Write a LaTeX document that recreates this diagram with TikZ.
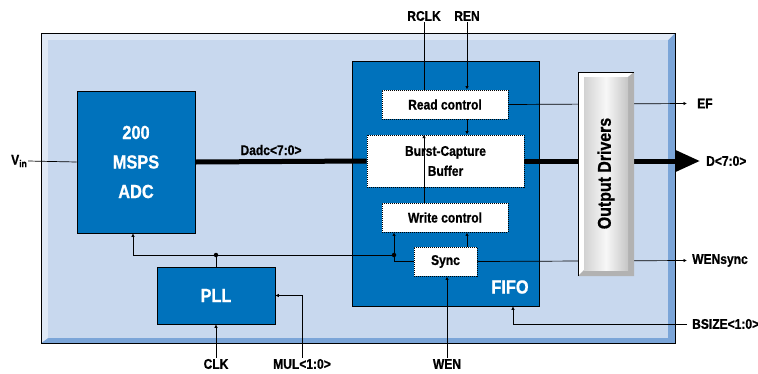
\documentclass[tikz,border=0pt]{standalone}
\usepackage{fontspec}
\setmainfont{Liberation Sans}[FakeStretch=0.86, BoldFeatures={FakeBold=0.8}]
\usetikzlibrary{arrows.meta,calc}
\definecolor{fifoblue}{RGB}{0,114,188}
\definecolor{bglight}{RGB}{200,216,238}
\definecolor{bgdark}{RGB}{123,165,216}
\definecolor{bgbevel}{RGB}{224,233,246}
\begin{document}
\begin{tikzpicture}[x=1pt,y=-1pt,
  blk/.style={draw=black, line width=0.7pt, fill=fifoblue, text=white, font=\bfseries\fontsize{19}{29.5}\selectfont, align=center, inner sep=0pt},
  sub/.style={draw=black, dash pattern=on 1pt off 1pt, line width=0.9pt, fill=white, font=\bfseries\fontsize{14}{20}\selectfont, align=center, inner sep=0pt},
  lbl/.style={font=\bfseries\fontsize{14}{16}\selectfont, inner sep=1pt},
  wire/.style={line width=0.7pt},
  bus/.style={line width=5pt},
  arr/.style={-{Latex[length=3.5pt,width=3.5pt]}},
  bigarr/.style={-{Triangle[length=25pt,width=21pt]}},
  dot/.style={circle, fill=black, inner sep=0pt, minimum size=4.5pt}]
\useasboundingbox (0,0) rectangle (758,373);
\fill[white] (0,0) rectangle (758,373);
% outer board
\fill[bgdark] (41,33) rectangle (675,343);
\fill[bgbevel] (41,33) -- (675,33) -- (668,40) -- (48,40) -- (48,338) -- (41,343) -- cycle;
\fill[bglight] (48,40) rectangle (668,338);
\draw[line width=0.7pt] (41,33) rectangle (675,343);
% main blocks
\node[blk, minimum width=118pt, minimum height=142pt] (adc) at (136,162) {200\\MSPS\\ADC};
\node[blk, minimum width=118pt, minimum height=57pt] (pll) at (216,295.5) {PLL};
\node[blk, minimum width=187pt, minimum height=245pt] (fifo) at (445.5,183.5) {};
\node[text=white, font=\bfseries\fontsize{19}{21}\selectfont, inner sep=0pt] (fifolbl) at (510,287) {FIFO};
% sub blocks
\node[sub, minimum width=126pt, minimum height=29pt] (rc) at (445,104.5) {Read control};
\node[sub, minimum width=157pt, minimum height=52pt] (buf) at (445.5,161) {Burst-Capture\\Buffer};
\node[sub, minimum width=126pt, minimum height=29pt] (wc) at (445,217.5) {Write control};
\node[sub, minimum width=63pt, minimum height=29pt] (sync) at (445.5,261.5) {Sync};
% labels
\node[lbl] (vin) at (19,161) {V\raisebox{-0.35ex}{\fontsize{10}{12}\selectfont in}};
\node[lbl] (dadc) at (271,150) {Dadc<7:0>};
\node[lbl] (rclk) at (424,16) {RCLK};
\node[lbl] (ren) at (467,16) {REN};
\node[lbl, anchor=west] (ef) at (696,103.5) {EF};
\node[lbl, anchor=west] (dout) at (705,161) {D<7:0>};
\node[lbl, anchor=west] (wensync) at (691,260.5) {WENsync};
\node[lbl, anchor=west] (bsize) at (691,324) {BSIZE<1:0>};
\node[lbl] (wen) at (447,364) {WEN};
\node[lbl] (clk) at (216,364) {CLK};
\node[lbl] (mul) at (302,364) {MUL<1:0>};
% connector ends
\coordinate (efend) at (687,103.5);
\coordinate (dend) at (700,161);
\coordinate (wsend) at (687,260.5);
\coordinate (bsstart) at (687,324);
\coordinate (adcin) at ($(adc.south)+(-3,0)$);
\coordinate (fifoin) at ($(fifo.south)+(67.5,0)$);
\node[dot] (d1) at (216,255) {};
\node[dot] (d2) at (394,255) {};
% wires
\draw[wire] (vin.east) -- (adc.west);
\draw[bus] (adc.east) -- (buf.west);
\draw[bus, bigarr] (buf.east) -- (dend);
\draw[wire] (rclk.south) -- (rclk.south |- rc.north);
\draw[wire, arr] (ren.south) -- (ren.south |- rc.north);
\draw[wire, arr] (ren |- rc.south) -- (ren |- buf.north);
\draw[wire, arr] (rclk |- wc.north) -- (rclk |- buf.north);
\draw[wire, arr] (ren |- sync.north) -- (ren |- wc.south);
\draw[wire, arr] (rc.east) -- (efend);
\draw[wire, arr] (sync.east) -- (wsend);
\draw[wire, arr] (wen.north) -- (wen.north |- sync.south);
\draw[wire, arr] (bsstart) -- (bsstart -| fifoin) -- (fifoin);
\draw[wire, arr] (d2.center) -- (d2.center -| adcin) -- (adcin);
\draw[wire] (pll.north) -- (d1.center);
\draw[wire, arr] (d2.center) -- (d2.center |- wc.south);
\draw[wire] (d2.center) -- (d2.center |- sync.west) -- (sync.west);
\draw[wire, arr] (clk.north) -- (clk.north |- pll.south);
\draw[wire, arr] (mul.north) -- (mul.north |- pll.east) -- (pll.east);
% output drivers (bevelled block)
\fill[white] (578,72) -- (634,72) -- (628,77) -- (584,77) -- (584,270) -- (578,276) -- cycle;
\fill[gray!60] (634,72) -- (634,276) -- (578,276) -- (584,270) -- (628,270) -- (628,77) -- cycle;
\node[minimum width=44pt, minimum height=193pt, inner sep=0pt, left color=gray!35, right color=gray!45, middle color=gray!6] (od) at (606,173.5) {};
\draw[line width=0.7pt] (578,276) -- (578,72) -- (634,72);
\node[rotate=90, font=\bfseries\fontsize{18.5}{20}\selectfont, inner sep=0pt] (odlbl) at (od.center) {Output Drivers};
\end{tikzpicture}
\end{document}
